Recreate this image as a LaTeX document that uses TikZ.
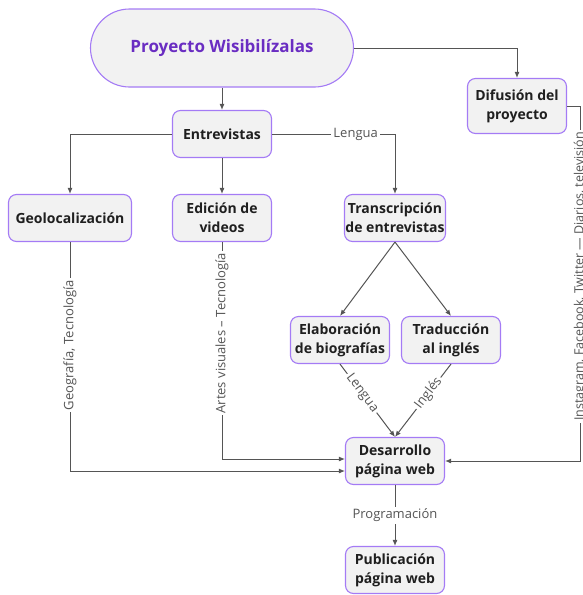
\documentclass[tikz,border=0pt]{standalone}
\usepackage{fontspec}
\setmainfont{Open Sans}
\usepackage{tikz}
\usetikzlibrary{arrows.meta}
\definecolor{lila}{HTML}{A47BF5}
\definecolor{morado}{HTML}{6A2DC2}
\definecolor{gris}{HTML}{F2F2F2}
\definecolor{linea}{HTML}{555555}

\begin{document}
\begin{tikzpicture}[x=1pt,y=-1pt,
    caja/.style={draw=lila,fill=gris,line width=1.1pt,rounded corners=8pt,
      minimum width=99pt,minimum height=47pt,inner sep=1pt,align=center,
      text=black!88,font=\fontsize{14}{19}\selectfont\bfseries},
    flecha/.style={draw=linea,line width=1pt,-{Latex[length=6pt,width=5pt]}},
    etiqueta/.style={fill=white,inner sep=2pt,text=linea,
      font=\fontsize{13}{15}\selectfont}]
  \useasboundingbox (0,0) rectangle (583,595);

  % main topic
  \node[caja,rounded corners=39pt,minimum width=263pt,minimum height=78pt,
    text=morado,font=\fontsize{17}{20}\selectfont\bfseries] (proyecto) at (222,48) {Proyecto Wisibilízalas};

  \node[caja] (entrevistas) at (222,134) {Entrevistas};
  \node[caja,minimum height=55pt] (difusion) at (517,106) {Difusión del\\proyecto};

  \node[caja,minimum width=123pt] (geo) at (70,218) {Geolocalización};
  \node[caja] (edicion) at (222,218) {Edición de\\videos};
  \node[caja] (transcripcion) at (395,218) {Transcripción\\de entrevistas};

  \node[caja] (elaboracion) at (340,340) {Elaboración\\de biografías};
  \node[caja] (traduccion) at (451,340) {Traducción\\al inglés};

  \node[caja] (desarrollo) at (395,461) {Desarrollo\\página web};
  \node[caja] (publicacion) at (395,570) {Publicación\\página web};

  % free corner of the media line
  \coordinate (rail) at (580,461);

  \draw[flecha] (proyecto.south) -- (entrevistas.north);
  \draw[flecha] (proyecto.east) -| (difusion.north);
  \draw[flecha] (entrevistas.west) -| (geo.north);
  \draw[flecha] (entrevistas.south) -- (edicion.north);
  \draw[flecha] (entrevistas.east) -| (transcripcion.north)
    node[etiqueta,pos=0.34] {Lengua};
  \draw[flecha] (transcripcion.south) -- (elaboracion.north);
  \draw[flecha] (transcripcion.south) -- (traduccion.north);

  % lines into the web page
  \draw[flecha] (geo.south) |- ([yshift=-10pt]desarrollo.west)
    node[etiqueta,pos=0.225,rotate=90] {Geografía, Tecnología};
  \draw[flecha] (edicion.south) |- ([yshift=2pt]desarrollo.west)
    node[etiqueta,pos=0.21,rotate=90] {Artes visuales -- Tecnología};
  \draw[flecha] (elaboracion.south) -- (desarrollo.north)
    node[etiqueta,pos=0.4,sloped] {Lengua};
  \draw[flecha] (traduccion.south) -- (desarrollo.north)
    node[etiqueta,pos=0.4,sloped] {Inglés};
  \draw[flecha] (difusion.east) -| node[etiqueta,pos=0.74,rotate=90,font=\fontsize{12.5}{14}\selectfont]
    {Instagram, Facebook, Twitter --- Diarios, televisión} (rail) -- (desarrollo.east);
  \draw[flecha] (desarrollo.south) -- (publicacion.north)
    node[etiqueta,midway] {Programación};
\end{tikzpicture}
\end{document}
